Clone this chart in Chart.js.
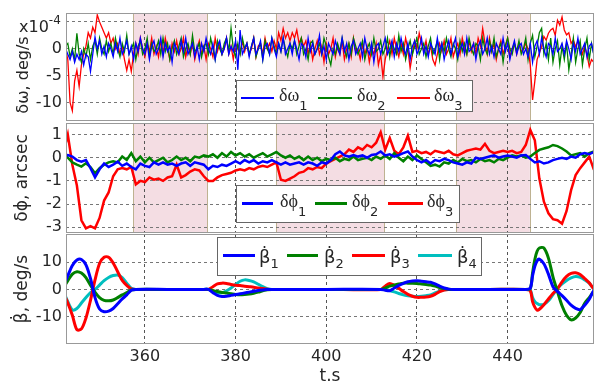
<!DOCTYPE html>
<html>
<head>
<meta charset="utf-8">
<script src="https://cdn.jsdelivr.net/npm/chart.js"></script>
<style>
html,body{margin:0;padding:0;background:#fff;}
body{width:595px;height:385px;position:relative;overflow:hidden;color:#262626;}
canvas{position:absolute;left:0;}
.box{position:absolute;background:#fff;border:1px solid #666;box-sizing:border-box;}
.ln{position:absolute;}
.lt{position:absolute;font:18px "Liberation Serif","DejaVu Serif",serif;line-height:1;white-space:nowrap;color:#262626;}
.lb{position:absolute;font:18px "DejaVu Sans",sans-serif;line-height:1;white-space:nowrap;color:#262626;}
.s{font:13px "DejaVu Sans",sans-serif;position:relative;}
#exp{position:absolute;left:19px;top:19px;font:16px "DejaVu Sans",sans-serif;line-height:1;color:#262626;white-space:nowrap;}
#exp span{font-size:12px;position:relative;top:-8px;}
#yt1{position:absolute;left:23px;top:75px;font:16px "DejaVu Sans",sans-serif;line-height:1;color:#262626;white-space:nowrap;transform:translate(-50%,-50%) rotate(-90deg);}
</style>
</head>
<body>
<canvas id="c1" width="595" height="125" style="top:0px"></canvas>
<canvas id="c2" width="595" height="114" style="top:121px"></canvas>
<canvas id="c3" width="595" height="153" style="top:232px"></canvas>

<div id="yt1">δω, deg/s</div>
<div id="exp">x10<span>-4</span></div>

<!-- legend panel 1 -->
<div class="box" style="left:236px;top:80px;width:237px;height:32px"></div>
<div class="ln" style="left:241px;top:97px;width:33px;height:2px;background:#0000ff"></div>
<div class="lt" style="left:279px;top:86px">δω<span class="s" style="top:9px">1</span></div>
<div class="ln" style="left:318px;top:97px;width:34px;height:2px;background:#008000"></div>
<div class="lt" style="left:357px;top:86px">δω<span class="s" style="top:9px">2</span></div>
<div class="ln" style="left:397px;top:97px;width:33px;height:2px;background:#ff0000"></div>
<div class="lt" style="left:434px;top:86px">δω<span class="s" style="top:9px">3</span></div>

<!-- legend panel 2 -->
<div class="box" style="left:236px;top:185px;width:224px;height:38px"></div>
<div class="ln" style="left:242px;top:202px;width:31px;height:3px;background:#0000ff"></div>
<div class="lt" style="left:280px;top:192px">δϕ<span class="s" style="top:9px">1</span></div>
<div class="ln" style="left:315px;top:202px;width:32px;height:3px;background:#008000"></div>
<div class="lt" style="left:352px;top:192px">δϕ<span class="s" style="top:9px">2</span></div>
<div class="ln" style="left:388px;top:202px;width:35px;height:3px;background:#ff0000"></div>
<div class="lt" style="left:427px;top:192px">δϕ<span class="s" style="top:9px">3</span></div>

<!-- legend panel 3 -->
<div class="box" style="left:217px;top:237px;width:265px;height:39px"></div>
<div class="ln" style="left:223px;top:254px;width:32px;height:3px;background:#0000ff"></div>
<div class="lb" style="left:259px;top:248px">β̇<span class="s" style="top:5px">1</span></div>
<div class="ln" style="left:287px;top:254px;width:31px;height:3px;background:#008000"></div>
<div class="lb" style="left:324px;top:248px">β̇<span class="s" style="top:5px">2</span></div>
<div class="ln" style="left:352px;top:254px;width:33px;height:3px;background:#ff0000"></div>
<div class="lb" style="left:390px;top:248px">β̇<span class="s" style="top:5px">3</span></div>
<div class="ln" style="left:418px;top:254px;width:34px;height:3px;background:#00bfbf"></div>
<div class="lb" style="left:457px;top:248px">β̇<span class="s" style="top:5px">4</span></div>

<script>
// ---------- shared axis data ----------
const X_MIN = 342.6, X_MAX = 459.05;
const xTicks = [360, 380, 400, 420, 440];
const bands = [[357.4, 373.8], [388.9, 412.8], [428.6, 444.9]];

// ---------- panel 1: delta omega (x1e-4 deg/s), sampled every 0.5 s from 342.5 s ----------
const T1_START = 342.5, T1_STEP = 0.5;
const dw1 = [
  0, -1, -2, -0.5, -2.5, -1, -2, -0.5, -3, -1, -1.5, -4.2, -1, 2.2, 0, 1.5, -1, 0.5, -1.5, 1,
  0, -1.5, 1, -0.5, 2, -1, 0, 1.5, -1, 0.5, -2, 1, -0.5, 2, 0, -1, 1, -2, 0.5, 1.5,
  -1, 0, 2, -1.5, 1, -0.5, 0.5, -2.5, 1, 0, -1, 1.5, -0.5, 2, -1, 0, 1, -1.5, 0.5, -2,
  1, -0.5, 2, 0, -1, 1, -2, 0.5, 1.5, -1, 0, 2, -1, 0.5, -0.5, 1.5, -3.9, 3.5, -1, 0,
  1, -1.5, 0.5, 2, -1, 0, 1.5, -2, 0.5, 1, -1, 2, 0, -1.5, 1, -0.5, 2, -1, 0, 1,
  -1, 1.5, 0, -2, 1, 0.5, -1.5, 2, -0.5, 1, -1, 0, 2.5, -1, 0.5, -2, 1, 0, -1, 1.5,
  0, -1, 2, -0.5, 1, -2, 0.5, 1.5, -1, 0, 1, -1.5, 2, 0, -1, 1, -2.5, 0.5, 1, -1,
  0.5, 2, -1, 0, 1.5, -1.5, 1, -0.5, 2, 0, -1, 1, -2, 0.5, 1.5, -1, 0, 2, -1, 0.5,
  -1.5, 1, 0, -1, 2, -0.5, 1, -2, 0, 1.5, -1, 0.5, 2, -1.5, 0, 1, -1, 2, -0.5, 0,
  1, -2, 0.5, 1.5, -1, 0, 2, -1, 0.5, -1.5, 1, 0, -1, 2, -0.5, 1, -2, 0, 1.5, -1,
  0.5, 1, -1, 0, -1.5, 1, -2.5, 0.5, 1.5, -1, 2, 0, -1.5, 1, 0.5, -1, 2, -0.5, 0, 1,
  -1, 1.5, 0, -2, 1, -0.5, 2, -1, 0, 1, -1.5, 0.5, 1, -1, 0
];
const dw2 = [
  0.5, 1, -1.5, 0, -2, 2.9, -1, -2.5, 0, -1.5, 1, -2, 0.5, 1.5, -1, 2, 0, -1, 1.5, -0.5,
  1, -1, 2, 0, -1.5, 1, -0.5, 2.5, -1, 0, 1, -2, 0.5, 1.5, -1, 0, 2, -1.5, 1, -0.5,
  0, 1.5, -1, 2, -0.5, 1, -2, 0, 1.5, -1, 0.5, 2, -1.5, 0, 1, -1, 2.5, -0.5, 0, 1,
  -1.5, 0.5, 1, -1, 2, 0, -2, 1.5, 0, -1, 1, 2, -0.5, 3.8, 0, -1.5, 1, -1, 2, 0,
  1, -1, 0.5, 2, -1.5, 0, 1, -2, 1.5, 0, -1, 2, 0.5, -1, 1, -0.5, 2, 0, -1.5, 1,
  0, 1.5, -1, 0.5, 2, -1, 0, -2, 1, 1.5, -1, 0, 1, -1, 2, 0.5, -1.5, -3, 0, -1,
  1, -0.5, 2, 0, -1.5, 1, -1, 2, 0.5, -1, 0, 1.5, -2, 0, 1, -1, 2, -0.5, 0, 1.5,
  -1, 0, 2, -1.5, 1, 0, -1, 2.5, -0.5, 1, -2, 0, 1.5, -1, 0.5, 2, -1, 0, 1, -1.5,
  0.5, 2, -1, 0, 1.5, -2, 1, -0.5, 2, 0, -1.5, 1, 0, -2, 1.5, -0.5, 1, -1, 2, 0,
  -1, 1, 0.5, -2, 2, 0, -1, 1.5, -0.5, 2, -1.5, 0, 1, -2.5, 0.5, 2, 0, -1, 1, -0.5,
  1.5, -1, 0, 2, -2, 1, 2.5, -1.5, 0.5, 3, 3.8, -1, 1, -2, 2, -2.5, 0, 1.5, -3, 0.5,
  -2, 1, -3.9, -1, 2, -2.5, 0, 1.5, -3, 0, 2, -2, 1, -1, 0.5
];
const dw3 = [
  0, -2, -10, -11.5, -6, -4, -7, -3, -1, 0.5, 3, 2, 4, 3, 6.3, 5, 4, 3, 2, 3,
  1, 2, 0, 1, -1, 0.5, -2, -4, -2, -4.2, -1, 1, -1, 2, 0, -1.5, 1, -0.5, 2, -1,
  0.5, -1.5, 1.5, -1, 2, 0, -2, 1, -0.5, 1.5, -1, 0, 2, -1.5, 0.5, -1, 1, -2, 0, 1.5,
  -1, 0.5, -2, 1, 0, -1.5, 2, -0.5, 1, -1, 0, 2, -1, 0.5, -2, 1, 0, -1, 1.5, -0.5,
  1, -1, 0, 2, -1.5, 0.5, 1, -1, 2, 0, 1, -0.5, 1.5, 0, 3, 1.5, 3.8, 2, 3, 1.5,
  3, 2, 3.5, 1, 2, 0.5, 1.5, -1, 1, -2, 0, 1.5, -1, 0.5, -2.5, 1, -1, 0, 2, -1.5,
  0.5, -1, 1.5, -2, 0, 1, -1.5, 2, -0.5, 0, -2, 1, -1, 0.5, -2.5, 0, -1, 1, -3, -1,
  -5.2, -2, 0, 1.5, -1, 2, 0, -1.5, 1, -1, 2, 0, -3.6, -1, 1.5, 0, 2.9, 1, -0.5, 1.5,
  -1, 0.5, -2, -3, -1, 1, -0.5, 1.5, -1, 0, 2, -1.5, 0, 1, -1, 2, 0, -1, 1.5, -0.5,
  1, -1, 2, 0.5, 3.8, 1, -1, 2, -0.5, 1, -2, 0, 1.5, -1, 0.5, 2, -1.5, 0, 1, -1,
  1, -0.5, 0, 1, 0, -3, -9.5, -6, -2, -0.8, 0.4, 2.3, 1.6, 2.9, 3.5, 3.8, 2.5, 5.3, 4.4, 5.9,
  3.5, 2.6, 3, 1, 1.6, 0.4, 1.5, 0.4, -1, 0.5, -1.1, -3.3, -2, -2.5, -2
];
const y1Ticks = [-10, -5, 0, 5];
const y1Labels = ['-10', '-5', '0', ''];

// ---------- panel 2: delta phi (arcsec), sampled every 1 s from 342 s ----------
const T2_START = 342, T2_STEP = 1;
const dphi1 = [
  0.1, 0.12, 0.05, -0.1, -0.17, -0.1, -0.45, -0.85, -0.5, -0.25,
  -0.4, -0.3, -0.17, -0.35, -0.25, -0.4, -0.5, -0.25, -0.35, -0.4,
  -0.2, -0.3, -0.2, -0.3, -0.25, -0.35, -0.25, -0.2, -0.35, -0.2,
  -0.25, -0.3, -0.5, -0.35, -0.4, -0.3, -0.35, -0.25, -0.15, -0.25,
  -0.1, -0.2, -0.1, -0.25, -0.15, -0.2, -0.1, -0.2, -0.3, -0.2,
  -0.3, -0.25, -0.2, -0.3, -0.2, -0.25, -0.35, -0.2, -0.25, -0.1,
  0.15, 0.27, 0.1, 0.05, 0.12, 0.05, 0.1, 0.0, 0.12, 0.15,
  0.27, 0.1, 0.15, 0.05, 0.12, 0.2, 0.27, 0.05, -0.1, -0.2,
  -0.1, -0.25, -0.1, -0.15, -0.05, -0.1, -0.2, -0.25, -0.3, -0.2,
  -0.25, 0.0, -0.05, 0.0, 0.05, 0.1, 0.0, 0.05, 0.1, 0.05,
  0.0, 0.1, 0.12, -0.05, -0.2, -0.15, -0.25, -0.2, -0.1, -0.05,
  0.0, -0.05, 0.05, 0.0, 0.15, 0.2, 0.15, 0.25, 0.27
];
const dphi2 = [
  0.2, 0.0, -0.2, -0.3, -0.38, -0.24, -0.4, -0.67, -0.45, -0.3,
  -0.2, -0.15, -0.2, 0.05, -0.1, 0.2, -0.15, 0.05, -0.2, 0.0,
  -0.2, -0.1, 0.0, -0.2, -0.1, 0.05, -0.1, 0.0, -0.15, 0.05,
  0.0, 0.1, 0.05, 0.15, 0.0, 0.2, 0.05, 0.25, 0.1, 0.2,
  0.05, 0.15, 0.0, 0.1, 0.2, 0.05, 0.15, 0.25, 0.1, 0.0,
  0.1, -0.05, 0.05, -0.1, 0.05, -0.1, 0.0, -0.15, -0.05, -0.1,
  0.0, -0.15, -0.05, -0.1, 0.05, -0.1, -0.05, 0.0, -0.1, 0.05,
  -0.05, 0.1, -0.05, 0.2, 0.0, -0.15, 0.05, -0.1, 0.1, -0.05,
  -0.2, -0.35, -0.3, -0.38, -0.2, -0.25, -0.1, -0.2, -0.05, -0.15,
  -0.1, -0.2, -0.05, -0.15, -0.1, -0.2, -0.05, -0.1, 0.0, 0.1,
  0.05, 0.1, 0.0, 0.05, 0.2, 0.34, 0.4, 0.45, 0.55, 0.5,
  0.4, 0.27, 0.1, 0.15, 0.2, 0.05, 0.2, 0.27, 0.25
];
const dphi3 = [
  0.2, 1.0, -0.3, -1.2, -2.7, -3.05, -2.95, -3.05, -2.6, -1.85,
  -1.5, -0.8, -0.5, -0.45, -0.5, -0.4, -1.15, -1.0, -1.05, -0.85,
  -0.95, -0.9, -1.0, -0.85, -0.8, -0.3, -0.85, -0.75, -0.6, -0.5,
  -0.55, -0.8, -1.0, -1.0, -0.85, -0.75, -0.7, -0.65, -0.55, -0.5,
  -0.55, -0.45, -0.5, -0.4, -0.35, -0.4, -0.3, -0.2, -0.95, -1.0,
  -0.9, -0.8, -0.65, -0.6, -0.45, -0.5, -0.4, -0.45, -0.25, -0.15,
  -0.05, 0.05, 0.15, 0.35, 0.25, 0.45, 0.35, 0.55, 0.45, 0.65,
  1.1, 0.35, 0.85, 0.3, 0.15, 0.45, 0.95, 0.25, 0.3, 0.2,
  0.25, 0.15, 0.3, 0.25, 0.2, 0.3, 0.15, 0.1, 0.2, 0.3,
  0.35, 0.4, 0.35, 0.6, 0.3, 0.2, 0.25, 0.3, 0.25, 0.3,
  0.2, 0.25, 0.55, 1.2, 0.75, -0.9, -1.9, -2.4, -2.65, -2.7,
  -2.85, -2.3, -1.4, -0.75, -0.45, -0.2, 0.05, -0.5, -0.7
];
const y2Ticks = [-3, -2, -1, 0, 1];
const y2Labels = ['-3', '-2', '-1', '0', '1'];

// ---------- panel 3: beta-dot (deg/s) ----------
const t3 = [342, 343, 344, 345, 346, 347, 348, 349, 350, 351, 352, 353, 354, 355, 356, 357, 358,
  365,
  373, 374, 375, 376, 377, 378, 379, 380, 381, 382, 383, 384, 385, 386, 387, 388,
  400,
  412, 413, 414, 415, 416, 417, 418, 419, 420, 421, 422, 423, 424, 425, 426, 427, 428,
  436,
  444, 445, 445.5, 446, 446.5, 447,
  448, 449, 450, 451, 452, 453, 454, 455, 456, 457, 458, 459, 460];
const bd1 = [1, 5, 8.8, 10.8, 11, 9, 4, -3, -7.2, -8.2, -8, -7, -5.3, -3.5, -2, -0.3, 0,
  0,
  0, 0, -1.2, -2.2, -2.6, -2.5, -2.2, -1.9, -1.6, -1.3, -1, -0.7, -0.4, -0.2, 0, 0,
  0,
  0, -0.3, -0.5, 0.5, 1.5, 2.2, 2.8, 3.1, 3.2, 3, 2.8, 2.6, 2, 1.2, 0.5, 0.1, 0,
  0,
  0, 0.5, 5, 8.5, 10.5, 11.1,
  9.4, 5.6, 1, -0.7, -2.3, -4, -5.8, -7, -7.4, -5.8, -3.6, -0.5, 0.5];
const bd2 = [0.5, 3.2, 5.6, 6.5, 6, 4.3, 1.5, -1, -3, -4, -4.2, -3.9, -3, -2, -1.2, -0.2, 0,
  0,
  0, 0, -0.4, -0.8, -1.1, -1.3, -1.6, -1.9, -2, -1.9, -1.7, -1.4, -1, -0.5, -0.1, 0,
  0,
  0, 0.5, 1.2, 1.6, 2, 2.3, 2.3, 2.3, 2.2, 2, 1.8, 1.6, 1.2, 0.7, 0.3, 0.1, 0,
  0,
  0, 0.3, 6, 11, 14, 15.2,
  15.2, 11.5, 4.6, -0.8, -6, -9.5, -11.2, -10.5, -8.5, -5.1, -3, -0.8, 0];
const bd3 = [-1, -5, -9.5, -14.8, -14.5, -10.5, -4, 3.5, 9.5, 11.8, 11.8, 9.7, 6.5, 3.3, 1.5, 0.2, 0,
  0,
  0, 0, 1, 2, 2.3, 2.2, 1.8, 1.5, 1.4, 1.2, 1, 0.8, 0.5, 0.3, 0.1, 0,
  0,
  0, 1.2, 2.2, 1.5, 0.4, -0.8, -1.8, -2.5, -2.9, -2.9, -2.8, -2.5, -1.8, -0.8, -0.2, 0, 0,
  0,
  0, -0.5, -4.5, -6.5, -7.6, -7.3,
  -5.6, -3.5, -1.5, 0.2, 2.8, 4.8, 5.9, 6.1, 5.5, 4, 2.4, 0.3, -0.5];
const bd4 = [-0.5, -4.5, -7.5, -7, -5, -3, -1.2, 0, 1.6, 3.2, 4.4, 5.1, 5.3, 4.3, 2.3, 0.4, 0,
  0,
  0, 0, -0.8, -1.3, -1.2, -0.5, 0.5, 1.8, 3, 3.5, 3.3, 2.8, 1.9, 1, 0.3, 0,
  0,
  0, 0, -0.4, -0.9, -1.5, -2, -2.3, -2.5, -2.6, -2.5, -2.3, -2, -1.3, -0.6, -0.1, 0, 0,
  0,
  0, -0.3, -3, -4.5, -5.2, -5.6,
  -5.5, -4.2, -1.9, 0.4, 2, 3.3, 4.2, 4.7, 4.4, 3.5, 2.3, 0.2, -0.3];
const y3Ticks = [-10, 0, 10];
const y3Labels = ['-10', '0', '10'];

// ---------- helpers ----------
const sampleTimes = (start, step, n) => Array.from({length: n}, (_, i) => start + i * step);
const pts = (ts, vs) => vs.map((v, i) => ({x: ts[i], y: v}));
const t1 = sampleTimes(T1_START, T1_STEP, dw1.length);
const t2 = sampleTimes(T2_START, T2_STEP, dphi1.length);

const FONT = '"DejaVu Sans", "Liberation Sans", Arial, sans-serif';
const TXT = '#262626';
const BLUE = '#0000ff', GREEN = '#008000', RED = '#ff0000', CYAN = '#00bfbf';

const deco = {
  id: 'deco',
  beforeDraw(chart, args, opts) {
    const b = opts.bands || [];
    if (!b.length) return;
    const {ctx, chartArea: a, scales: {x}} = chart;
    ctx.save();
    ctx.fillStyle = 'rgb(244,221,227)';
    b.forEach(([s, e]) => {
      const x0 = x.getPixelForValue(s), x1 = x.getPixelForValue(e);
      ctx.fillRect(x0, a.top, x1 - x0, a.bottom - a.top);
    });
    ctx.strokeStyle = 'rgb(190,178,145)';
    ctx.lineWidth = 1;
    b.forEach(([s, e]) => {
      [s, e].forEach(v => {
        const px = Math.round(x.getPixelForValue(v)) + 0.5;
        ctx.beginPath(); ctx.moveTo(px, a.top); ctx.lineTo(px, a.bottom); ctx.stroke();
      });
    });
    ctx.restore();
  },
  afterDatasetsDraw(chart) {
    const {ctx, chartArea: a} = chart;
    ctx.save();
    ctx.strokeStyle = '#999';
    ctx.lineWidth = 1;
    ctx.strokeRect(a.left + 0.5, a.top + 0.5, a.right - a.left - 1, a.bottom - a.top - 1);
    ctx.restore();
  }
};

function ds(data, color, width, tension) {
  return {data, borderColor: color, backgroundColor: color, borderWidth: width,
          pointRadius: 0, tension: tension, clip: 0, fill: false};
}

function panel(id, datasets, ymin, ymax, yTicks, yLabels, yTitle, pad, withX, withBands) {
  return new Chart(document.getElementById(id), {
    type: 'line',
    data: {datasets},
    options: {
      responsive: false,
      animation: false,
      events: [],
      layout: {padding: pad},
      plugins: {legend: {display: false}, tooltip: {enabled: false},
                deco: {bands: withBands ? bands : []}},
      scales: {
        x: {
          type: 'linear', min: X_MIN, max: X_MAX,
          afterBuildTicks: s => { s.ticks = xTicks.map(v => ({value: v})); },
          afterFit: s => { s.height = withX ? 41 : 0; s.paddingLeft = 0; s.paddingRight = 0; },
          grid: {color: '#555', lineWidth: 1, drawTicks: false},
          border: {display: false, dash: [3, 3]},
          ticks: {display: withX, padding: 3, color: TXT, font: {family: FONT, size: 16},
                  maxRotation: 0, autoSkip: false, callback: v => String(v)},
          title: {display: withX, text: 't.s', color: TXT,
                  font: {family: FONT, size: 17, lineHeight: 1}, padding: {top: 0, bottom: 0}}
        },
        y: {
          type: 'linear', min: ymin, max: ymax,
          afterBuildTicks: s => { s.ticks = yTicks.map(v => ({value: v})); },
          afterFit: s => { s.width = 66; s.paddingTop = 0; s.paddingBottom = 0; },
          grid: {color: '#777', lineWidth: 1, drawTicks: false},
          border: {display: false, dash: [3, 3]},
          ticks: {padding: 4, color: TXT, font: {family: FONT, size: 16}, autoSkip: false,
                  callback: (v, i) => yLabels[i]},
          title: {display: !!yTitle, text: yTitle || '', color: TXT, font: {family: FONT, size: 17},
                  padding: {top: 12.5, bottom: 0}}
        }
      }
    },
    plugins: [deco]
  });
}

panel('c1', [
  ds(pts(t1, dw1), BLUE, 1.3, 0),
  ds(pts(t1, dw2), GREEN, 1.3, 0),
  ds(pts(t1, dw3), RED, 1.3, 0)
], -13.4, 6.65, y1Ticks, y1Labels, null, {top: 13, bottom: 4, left: 0, right: 1}, false, true);

panel('c2', [
  ds(pts(t2, dphi1), BLUE, 2.5, 0),
  ds(pts(t2, dphi2), GREEN, 2.5, 0),
  ds(pts(t2, dphi3), RED, 2.5, 0)
], -3.25, 1.5, y2Ticks, y2Labels, 'δϕ, arcsec', {top: 2, bottom: 2, left: 0, right: 1}, false, true);

panel('c3', [
  ds(pts(t3, bd1), BLUE, 3, 0.3),
  ds(pts(t3, bd2), GREEN, 3, 0.3),
  ds(pts(t3, bd3), RED, 3, 0.3),
  ds(pts(t3, bd4), CYAN, 3, 0.3)
], -20.05, 20.35, y3Ticks, y3Labels, 'β\u0307, deg/s', {top: 2, bottom: 0, left: 0, right: 1}, true, false);
</script>
</body>
</html>
